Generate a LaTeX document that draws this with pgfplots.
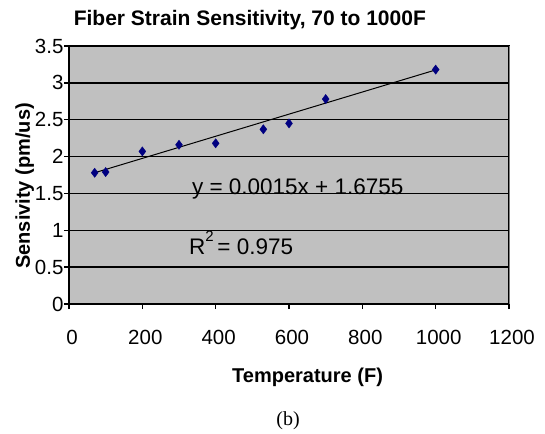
\documentclass[border=0pt]{standalone}
\usepackage{fontspec}
\setmainfont{Liberation Sans}
\newfontfamily\seriffont{Liberation Serif}
\usepackage{pgfplots}
\pgfplotsset{compat=1.18}
\definecolor{plotbg}{RGB}{192,192,192}
\definecolor{navyb}{RGB}{0,0,128}
\begin{document}
\begin{tikzpicture}
\begin{axis}[
  name=ax,
  at={(0,0)}, anchor=south west,
  scale only axis, width=440pt, height=258pt,
  xmin=0, xmax=1200, ymin=0, ymax=3.5,
  xtick={0,200,400,600,800,1000,1200},
  ytick={0,0.5,1,1.5,2,2.5,3,3.5},
  yticklabels={0,0.5,1,1.5,2,2.5,3,3.5},
  xticklabels={0,200,400,600,800,1000,1200},
  xtick pos=bottom, ytick pos=left,
  tick align=outside, major tick length=5pt,
  tick style={black, line width=1.4pt},
  ymajorgrids, grid style={black, line width=1.5pt},
  axis background/.style={fill=plotbg},
  axis line style={black, line width=1.5pt},
  /pgf/number format/assume math mode=true,
  ticklabel style={font=\fontsize{20.5}{24}\selectfont, black},
  xticklabel style={yshift=-18pt, xshift=3pt},
  yticklabel style={xshift=3pt},
  clip=false,
]
\addplot[only marks, mark=diamond*, mark size=4.6pt, color=navyb] coordinates {
  (70,1.78) (100,1.79) (200,2.07) (300,2.16) (400,2.18)
  (530,2.37) (600,2.45) (700,2.78) (1000,3.18)
};
\addplot[black, line width=1pt, mark=none] coordinates {
  (70,1.7805) (1000,3.1755)
};
\draw[gray, line width=1pt] (rel axis cs:1,0) -- (rel axis cs:1,1);
\node[anchor=base west, font=\fontsize{22.5}{26}\selectfont, inner sep=0pt] at (axis cs:335,1.48) {y = 0.0015x + 1.6755};
\node[anchor=base west, font=\fontsize{22.5}{26}\selectfont, inner sep=0pt] at (axis cs:327,0.665) {R\raisebox{13pt}{\fontsize{15}{15}\selectfont 2}\,= 0.975};
\node[anchor=base, font=\bfseries\fontsize{21}{25}\selectfont, inner sep=0pt] at ([yshift=20pt]rel axis cs:0.411,1) {Fiber Strain Sensitivity, 70 to 1000F};
\node[anchor=base west, font=\bfseries\fontsize{20}{24}\selectfont, inner sep=0pt] at ([xshift=163pt,yshift=-78pt]rel axis cs:0,0) {Temperature (F)};
\node[anchor=base, font=\seriffont\fontsize{20}{24}\selectfont, inner sep=0pt] at ([xshift=219pt,yshift=-121pt]rel axis cs:0,0) {(b)};
\node[anchor=base, rotate=90, font=\bfseries\fontsize{20}{24}\selectfont, inner sep=0pt] at ([xshift=-39pt,yshift=118pt]rel axis cs:0,0) {Sensivity (pm/us)};
\end{axis}
\path (-69pt,-129pt) rectangle (476pt,304pt);
\end{tikzpicture}
\end{document}
